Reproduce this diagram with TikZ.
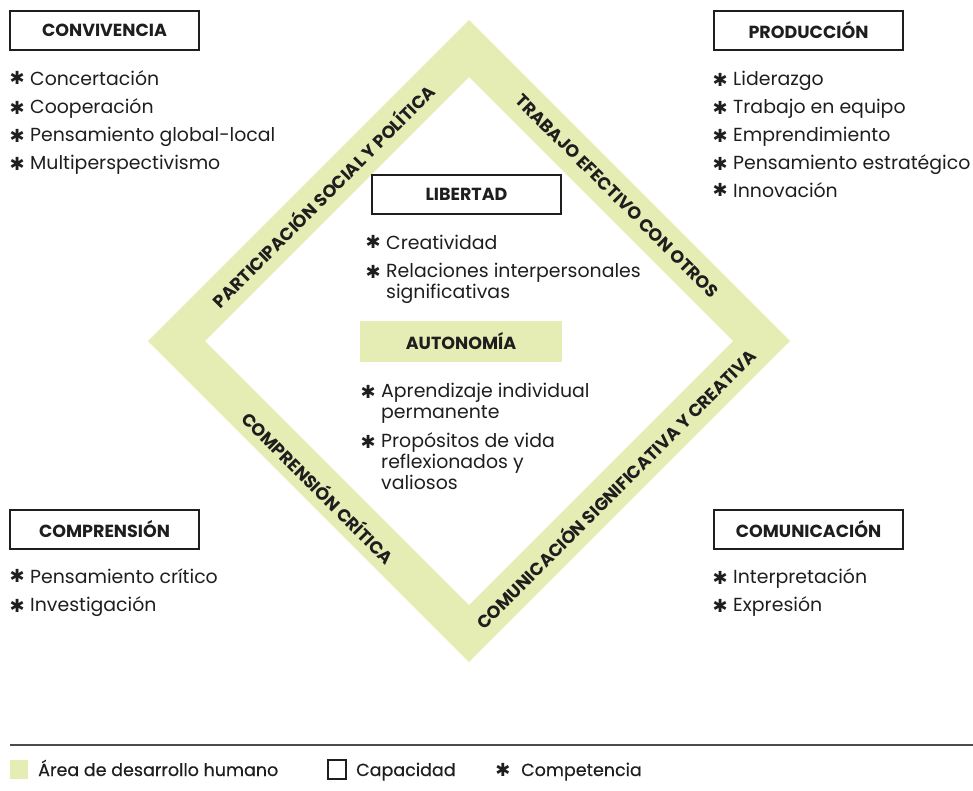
\documentclass[tikz,border=0pt]{standalone}
\usepackage{fontspec}
\setmainfont{Poppins}
\newfontfamily\symfont{DejaVu Sans}
\newfontfamily\keyfont[FakeBold=0.4]{Poppins}
\usetikzlibrary{positioning}
\definecolor{areafill}{HTML}{E6EDB4}
\definecolor{ink}{HTML}{1E1E1E}
\tikzset{
  capbox/.style={draw=ink, line width=1.5pt, minimum width=189pt, minimum height=39pt,
    inner sep=0pt, text=ink, font=\fontsize{17.5}{20}\selectfont\bfseries},
  areabox/.style={capbox, draw=none, fill=areafill, minimum width=202pt, minimum height=41pt},
  comp/.style={anchor=base west, inner sep=0pt, text=ink, font=\fontsize{18.9}{21}\selectfont},
  compstar/.style={comp, label={[text=ink, inner sep=0pt, label distance=5pt,
    font=\symfont\fontsize{18}{18}\selectfont]left:✱}},
  bandlbl/.style={inner sep=0pt, text=ink, font=\fontsize{17.5}{20}\selectfont\bfseries},
  keytxt/.style={anchor=base west, inner sep=0pt, text=ink, font=\keyfont\fontsize{17.5}{20}\selectfont}
}
\begin{document}
\begin{tikzpicture}[x=1pt, y=-1pt]
    \useasboundingbox (0,0) rectangle (973,790);

    % area band
    \fill[areafill, even odd rule] (469,20) -- (790,341) -- (469,662) -- (148,341) -- cycle
        (469,77) -- (733,341) -- (469,605) -- (205,341) -- cycle;

    \node[bandlbl, rotate=45] (partic) at (323,195) {PARTICIPACIÓN SOCIAL Y POLÍTICA};
    \node[bandlbl, rotate=-45] (trabajo) at (617,196) {TRABAJO EFECTIVO CON OTROS};
    \node[bandlbl, rotate=-45] (critica) at (319,487) {COMPRENSIÓN CRÍTICA};
    \node[bandlbl, rotate=45] (comunic) at (615,488) {COMUNICACIÓN SIGNIFICATIVA Y CREATIVA};

    % capacidades
    \node[capbox] (conv) at (104.5,30.5) {CONVIVENCIA};
    \node[capbox] (prod) at (808.5,30.5) {PRODUCCIÓN};
    \node[capbox] (comp) at (104.5,529.5) {COMPRENSIÓN};
    \node[capbox] (comu) at (808.5,529.5) {COMUNICACIÓN};
    \node[capbox] (lib) at (466.5,194.5) {LIBERTAD};
    \node[areabox] (auto) at (461,341.5) {AUTONOMÍA};

    % competencias
    \node[compstar] (conv1) at (30,85) {Concertación};
    \node[compstar] (conv2) at (30,113) {Cooperación};
    \node[compstar] (conv3) at (30,141) {Pensamiento global-local};
    \node[compstar] (conv4) at (30,169) {Multiperspectivismo};

    \node[compstar] (prod1) at (733,85) {Liderazgo};
    \node[compstar] (prod2) at (733,113) {Trabajo en equipo};
    \node[compstar] (prod3) at (733,141) {Emprendimiento};
    \node[compstar] (prod4) at (733,169) {Pensamiento estratégico};
    \node[compstar] (prod5) at (733,197) {Innovación};

    \node[compstar] (lib1) at (386,249) {Creatividad};
    \node[compstar] (lib2) at (386,277) {Relaciones interpersonales};
    \node[comp] (lib2b) at (386,298) {significativas};

    \node[compstar] (auto1) at (381,397) {Aprendizaje individual};
    \node[comp] (auto1b) at (381,418) {permanente};
    \node[compstar] (auto2) at (381,447) {Propósitos de vida};
    \node[comp] (auto2b) at (381,468) {reflexionados y};
    \node[comp] (auto2c) at (381,489) {valiosos};

    \node[compstar] (comp1) at (30,583) {Pensamiento crítico};
    \node[compstar] (comp2) at (30,611) {Investigación};

    \node[compstar] (comu1) at (733,583) {Interpretación};
    \node[compstar] (comu2) at (733,611) {Expresión};

    % leyenda
    \draw[color=ink!80, line width=1.5pt] (10,745) -- (973,745);
    \node[fill=areafill, minimum width=18pt, minimum height=19pt, inner sep=0pt] (keyarea) at (19,769) {};
    \node[keytxt] (keyareatxt) at (38,776) {Área de desarrollo humano};
    \node[draw=ink, line width=1.2pt, minimum width=18pt, minimum height=19pt, inner sep=0pt] (keycap) at (337,769.5) {};
    \node[keytxt] (keycaptxt) at (356,776) {Capacidad};
    \node[inner sep=0pt, text=ink, font=\symfont\fontsize{18}{18}\selectfont] (keystar) at (503,770) {✱};
    \node[keytxt] (keystartxt) at (521,776) {Competencia};
\end{tikzpicture}
\end{document}
